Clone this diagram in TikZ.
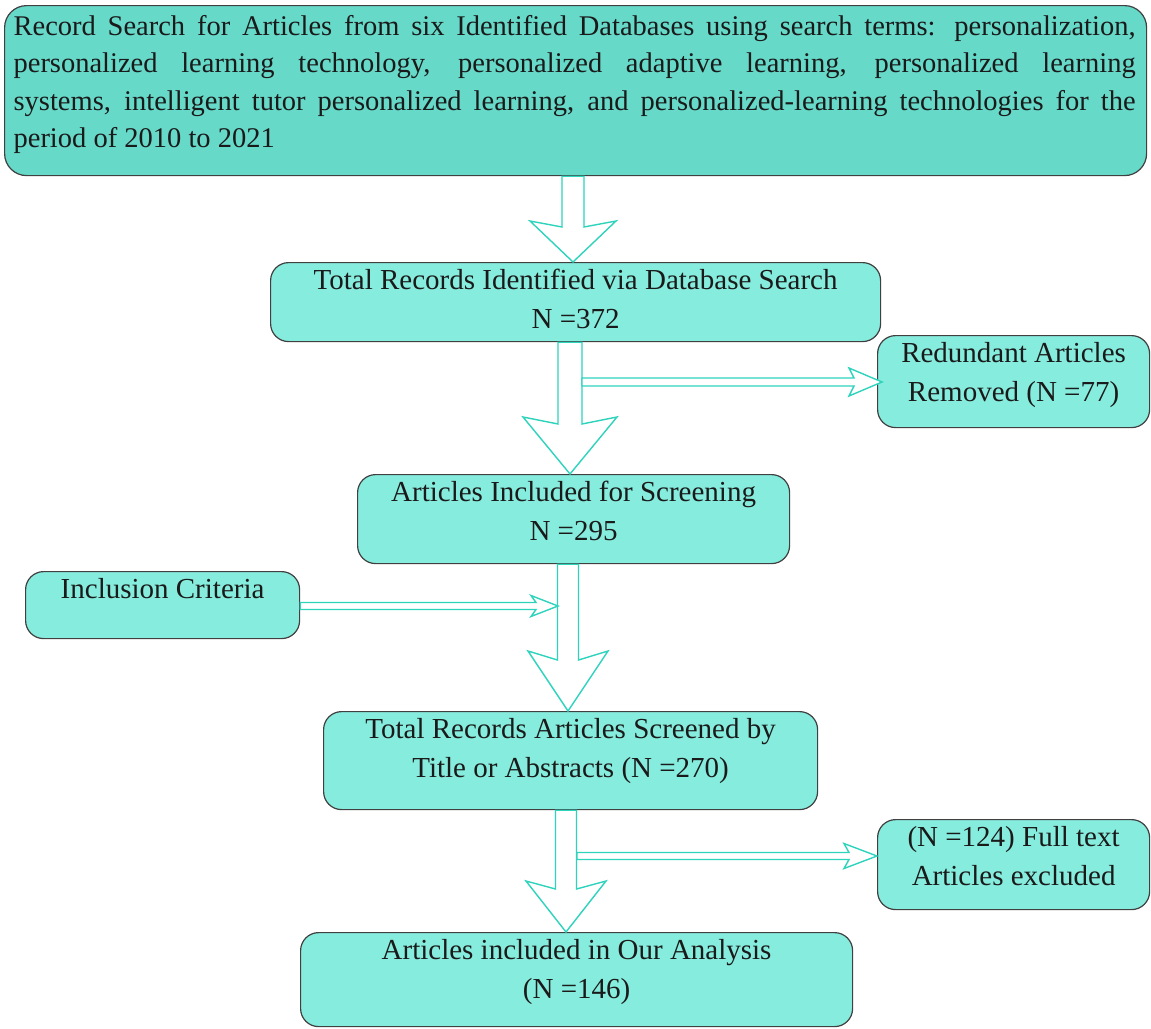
\documentclass[tikz,border=0pt]{standalone}
\usepackage{fontspec}
\setmainfont{Liberation Serif}
\usetikzlibrary{calc}
\definecolor{topfill}{HTML}{66D9C9}
\definecolor{boxfill}{HTML}{86ECDD}
\definecolor{boxline}{HTML}{404040}
\definecolor{arrowteal}{HTML}{2ED3BC}
\definecolor{txt}{HTML}{1A1A1A}
% vertical block arrow: start, tip, half shaft, half head, shaft end to tip, sweep
\newcommand\vblock[6]{%
  \filldraw[blockarrow] let \p1=(#1), \p2=(#2) in
    (\x1-#3pt,\y1) -- (\x1-#3pt,\y2+#5pt) -- (\x1-#4pt,\y2+#5pt+#6pt) -- (\x1,\y2)
    -- (\x1+#4pt,\y2+#5pt+#6pt) -- (\x1+#3pt,\y2+#5pt) -- (\x1+#3pt,\y1) -- cycle;}
% horizontal block arrow
\newcommand\hblock[6]{%
  \filldraw[blockarrow] let \p1=(#1), \p2=(#2) in
    (\x1,\y1+#3pt) -- (\x2-#5pt,\y1+#3pt) -- (\x2-#5pt-#6pt,\y1+#4pt) -- (\x2,\y1)
    -- (\x2-#5pt-#6pt,\y1-#4pt) -- (\x2-#5pt,\y1-#3pt) -- (\x1,\y1-#3pt) -- cycle;}
\newcommand\btext[3]{\parbox[t][#1][t]{#2}{\centering\rule{0pt}{27pt}#3}}
\begin{document}
\begin{tikzpicture}[x=1pt,y=-1pt,
  box/.style={draw=boxline, line width=1.2pt, rounded corners=18pt, fill=boxfill,
    inner sep=0pt, anchor=north west, text=txt, font={\fontsize{29pt}{38.5pt}\selectfont}},
  blockarrow/.style={draw=arrowteal, fill=white, line width=1.4pt, line join=miter}]
\useasboundingbox (0,0) rectangle (1151,1028);

\node[box, fill=topfill, rounded corners=22pt] (top) at (4,5)
  {\parbox[t][170pt][t]{1142pt}{\fontsize{28.5pt}{37.3pt}\selectfont
   \leftskip=9pt\rightskip=11pt\parindent=0pt\hyphenpenalty=10000\rule{0pt}{30pt}%
   Record Search for Articles from six Identified Databases using search terms: personalization,\linebreak
   personalized learning technology, personalized adaptive learning, personalized learning\linebreak
   systems, intelligent tutor personalized learning, and personalized-learning technologies for the\linebreak
   period of 2010 to 2021}};

\node[box] (b2) at (270,262) {\btext{79pt}{610pt}{Total Records Identified via Database Search\\N =372}};
\node[box] (red) at (877,335) {\btext{92pt}{272pt}{Redundant Articles\\Removed (N =77)}};
\node[box] (b4) at (357,474) {\btext{89pt}{432pt}{Articles Included for Screening\\N =295}};
\node[box] (inc) at (25,571) {\btext{67pt}{274pt}{Inclusion Criteria}};
\node[box] (b6) at (323,711) {\btext{98pt}{494pt}{Total Records Articles Screened by\\Title or Abstracts (N =270)}};
\node[box] (ft) at (877,819) {\btext{90pt}{272pt}{(N =124) Full text\\Articles excluded}};
\node[box] (b8) at (300,932) {\btext{94pt}{552pt}{Articles included in Our Analysis\\(N =146)}};

\coordinate (c1) at (573,0);
\coordinate (c2) at (570,0);
\coordinate (c3) at (568,0);
\coordinate (c4) at (566,0);
\coordinate (s1) at (582,382);
\coordinate (s2) at (558,606);
\coordinate (s3) at (577,856);

\vblock{top.south -| c1}{b2.north -| c1}{11}{43}{35}{6}
\vblock{b2.south -| c2}{b4.north -| c2}{12}{47}{50}{7}
\vblock{b4.south -| c3}{b6.north -| c3}{10.5}{40}{51}{9}
\vblock{b6.south -| c4}{b8.north -| c4}{10.5}{40}{43}{8}

\hblock{s1}{$(red.west |- s1)+(5,0)$}{4}{14}{28}{5}
\hblock{inc.east |- s2}{s2}{3.5}{10.5}{22}{5}
\hblock{s3}{ft.west |- s3}{3.5}{12.5}{28}{5}
\end{tikzpicture}
\end{document}
